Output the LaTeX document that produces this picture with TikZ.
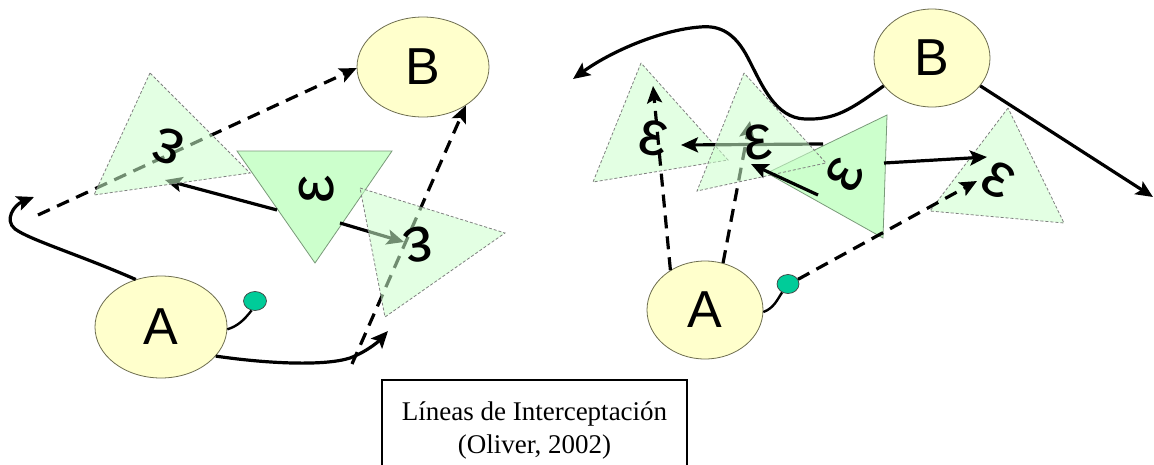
\documentclass[tikz,border=0pt]{standalone}
\usepackage{fontspec}
\setmainfont{Liberation Sans}
\newfontfamily\capfont{Liberation Serif}
\usetikzlibrary{shapes.geometric,arrows.meta}
\definecolor{ellfill}{HTML}{FFFFCC}
\definecolor{ellline}{HTML}{6E6E50}
\definecolor{trifill}{HTML}{CCFFCC}
\definecolor{triline}{HTML}{7A9A7A}
\definecolor{dotfill}{HTML}{00CC99}
\tikzset{
  place/.style={ellipse,draw=ellline,line width=0.8pt,fill=ellfill,inner sep=0pt,
    font=\fontsize{52}{52}\selectfont},
  dotnode/.style={ellipse,draw=black!75,line width=0.7pt,fill=dotfill,inner sep=0pt,
    minimum width=23pt,minimum height=19pt},
  paletri/.style={fill=trifill,fill opacity=0.55,draw=gray,line width=0.8pt,
    dash pattern=on 3pt off 2pt},
  solidtri/.style={fill=trifill,draw=triline,line width=0.8pt},
  link/.style={line width=3.2pt,line cap=butt},
  dlink/.style={link,dash pattern=on 13pt off 8pt},
  tip/.style={-{Stealth[length=17pt,width=15pt,inset=3.5pt]}},
  glyph/.style={inner sep=0pt,font=\fontsize{64}{64}\selectfont},
  capbox/.style={draw,line width=1.2pt,minimum width=305pt,minimum height=101pt,
    align=center,font=\capfont\fontsize{27}{33}\selectfont}
}
\begin{document}
\begin{tikzpicture}[x=1pt,y=-1pt]
\clip (0,0) rectangle (1154,464);
\fill[white] (0,0) rectangle (1154,464);

% ---------------- left panel ----------------
\node[place,minimum width=132pt,minimum height=102pt] (A1) at (161,327) {A};
\node[place,minimum width=132pt,minimum height=100pt] (B1) at (423,67) {B};
\node[dotnode] (d1) at (255,301) {};

\coordinate (t1a) at (150,73);  \coordinate (t1b) at (94,195);  \coordinate (t1c) at (250,173);
\coordinate (t2a) at (237,151); \coordinate (t2b) at (392,151); \coordinate (t2c) at (315,263);
\coordinate (t3a) at (360,188); \coordinate (t3b) at (505,233); \coordinate (t3c) at (385,317);

\fill[solidtri] (t2a) -- (t2b) -- (t2c) -- cycle;

\coordinate (curlend) at (34,197);
\coordinate (dl1s) at (38,215);
\coordinate (dl2s) at (352,364);
\coordinate (rise) at (388,331);
\coordinate (t2l) at (277,210);
\coordinate (t1tip) at (165,180);
\coordinate (t2r) at (340,223);
\coordinate (t3tip) at (404,242);

\draw[link,tip] (A1.118) .. controls (80,255) and (30,240) .. (15,229)
   .. controls (4,220) and (14,205) .. (curlend);
\draw[link,tip] (A1.-28) .. controls (270,364) and (325,366) .. (350,358)
   .. controls (366,352) and (378,342) .. (rise);
\draw[dlink,tip] (dl1s) -- (B1.181);
\draw[dlink,tip] (dl2s) -- (B1.-42);
\draw[link,tip] (t2l) -- (t1tip);
\draw[link,tip] (t2r) -- (t3tip);
\draw[line width=2.4pt] (A1.-2) .. controls (238,326) and (244,320) .. (d1.250);

\filldraw[paletri] (t1a) -- (t1b) -- (t1c) -- cycle;
\filldraw[paletri] (t3a) -- (t3b) -- (t3c) -- cycle;

\node[glyph,rotate=160] (g1) at (168,147) {ε};
\node[glyph,rotate=90]  (g2) at (317,189) {ε};
\node[glyph,rotate=190] (g3) at (418,245) {ε};

% ---------------- right panel ----------------
\node[place,minimum width=116pt,minimum height=98pt] (A2) at (705,310) {A};
\node[place,minimum width=116pt,minimum height=98pt] (B2) at (932,58) {B};
\node[dotnode,minimum width=22pt] (d2) at (788,284) {};

\coordinate (t4a) at (641,63);  \coordinate (t4b) at (593,182); \coordinate (t4c) at (728,160);
\coordinate (t5a) at (744,73);  \coordinate (t5b) at (697,191); \coordinate (t5c) at (826,163);
\coordinate (t6a) at (887,115); \coordinate (t6b) at (883,238); \coordinate (t6c) at (767,173);
\coordinate (t7a) at (1008,108); \coordinate (t7b) at (930,211); \coordinate (t7c) at (1064,223);

\filldraw[paletri] (t4a) -- (t4b) -- (t4c) -- cycle;
\filldraw[paletri] (t7a) -- (t7b) -- (t7c) -- cycle;
\filldraw[solidtri] (t6a) -- (t6b) -- (t6c) -- cycle;

\coordinate (wavetip) at (573,79);
\coordinate (outtip) at (1153,197);
\coordinate (up1) at (653,86);
\coordinate (up2) at (750,121);
\coordinate (t6tl) at (823,144);
\coordinate (t4tip) at (681,145);
\coordinate (t6low) at (818,195);
\coordinate (t5tip) at (751,164);
\coordinate (t6rt) at (884,163);
\coordinate (t7tip) at (987,157);
\coordinate (t7in) at (977,181);

\draw[link,tip] (B2.210) .. controls (850,110) and (835,120) .. (805,119)
   .. controls (775,118) and (762,85) .. (748,58)
   .. controls (735,33) and (720,25) .. (700,27)
   .. controls (660,30) and (610,52) .. (wavetip);
\draw[link,tip] (B2.-30) -- (outtip);
\draw[dlink,tip] (A2.131) -- (up1);
\draw[dlink,tip] (A2.69) -- (up2);
\draw[link,tip] (t6tl) -- (t4tip);
\draw[link,tip] (t6rt) -- (t7tip);
\draw[dlink,tip] (d2.25) -- (t7in);
\draw[line width=2.4pt] (A2.-2) .. controls (774,308) and (777,300) .. (d2.235);

\filldraw[paletri] (t5a) -- (t5b) -- (t5c) -- cycle;
\draw[link,tip] (t6low) -- (t5tip);

\node[glyph,rotate=-10] (g4) at (653,138) {ε};
\node[glyph,rotate=5]   (g5) at (758,142) {ε};
\node[glyph,rotate=60]  (g6) at (845,175) {ε};
\node[glyph,rotate=-30] (g7) at (998,180) {ε};

% ---------------- caption ----------------
\node[capbox] (cap) at (534.5,430.5) {Líneas de Interceptación\\(Oliver, 2002)};
\end{tikzpicture}
\end{document}
